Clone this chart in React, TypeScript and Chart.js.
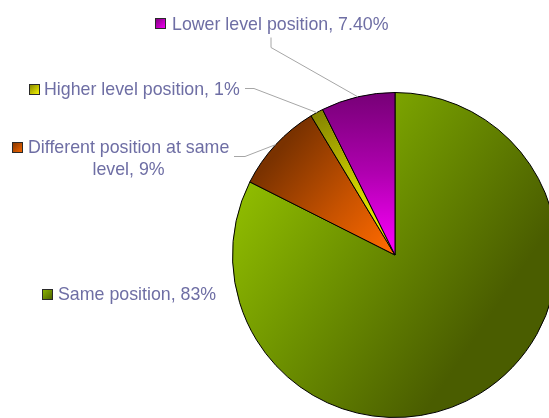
import React, { useEffect, useRef } from "react";
import { Chart, registerables } from "chart.js";

Chart.register(...registerables);

const categories = [
  "Same position",
  "Different position at same level",
  "Higher level position",
  "Lower level position",
];
const values = [83, 9, 1.3, 7.4];
const valueLabels = ["83%", "9%", "1%", "7.40%"];

// gradient stops per slice
const sliceStops: string[][] = [
  ["#8FBC00", "#6E9200", "#4A5D00"],
  ["#7A3200", "#C75200", "#FF6A00"],
  ["#7F7F00", "#C8C800", "#FFFF00"],
  ["#760076", "#B000B0", "#FF00FF"],
];

const labelLayout = [
  { sx: 42, sy: 289, tx: 58, ty: 300, lines: null as null | number[][] },
  { sx: 12, sy: 142, tx: 28, ty: 153, line2Center: 128.5, line2Y: 175, lines: [[234, 156], [245, 156]] },
  { sx: 29, sy: 84, tx: 44, ty: 95, lines: [[245, 88], [254, 88]] },
  { sx: 155, sy: 18, tx: 172, ty: 30, lines: [[271, 37], [271, 47]] },
];

const FONT = "17.8px 'Liberation Sans', Arial, sans-serif";
const TEXT_COLOR = "#6E6EA4";

function sliceGradient(ctx: CanvasRenderingContext2D, i: number, cx: number, cy: number, r: number) {
  let g: CanvasGradient;
  const s = sliceStops[i];
  if (i === 0) {
    g = ctx.createLinearGradient(cx - 0.9 * r, cy - 0.45 * r, cx + 0.5 * r, cy + 0.5 * r);
    g.addColorStop(0, s[0]);
    g.addColorStop(0.45, s[1]);
    g.addColorStop(1, s[2]);
  } else if (i === 1) {
    g = ctx.createLinearGradient(cx - 0.75 * r, cy - 0.6 * r, cx - 0.05 * r, cy);
    g.addColorStop(0, s[0]);
    g.addColorStop(0.55, s[1]);
    g.addColorStop(1, s[2]);
  } else if (i === 2) {
    g = ctx.createLinearGradient(cx - 0.5 * r, cy - 0.9 * r, cx, cy);
    g.addColorStop(0, s[0]);
    g.addColorStop(0.5, s[1]);
    g.addColorStop(1, s[2]);
  } else {
    g = ctx.createLinearGradient(cx, cy - r, cx, cy);
    g.addColorStop(0, s[0]);
    g.addColorStop(0.5, s[1]);
    g.addColorStop(1, s[2]);
  }
  return g;
}

const labelPlugin = {
  id: "sideLabels",
  afterDraw(chart: any) {
    const ctx: CanvasRenderingContext2D = chart.ctx;
    const meta = chart.getDatasetMeta(0);
    ctx.save();
    ctx.font = FONT;
    ctx.textBaseline = "alphabetic";
    meta.data.forEach((arc: any, i: number) => {
      const L: any = labelLayout[i];
      const sq = ctx.createLinearGradient(L.sx, L.sy, L.sx + 11, L.sy + 11);
      sq.addColorStop(0, sliceStops[i][0]);
      sq.addColorStop(1, sliceStops[i][2]);
      ctx.fillStyle = sq;
      ctx.fillRect(L.sx, L.sy, 11, 11);
      ctx.strokeStyle = "#2A2A2A";
      ctx.lineWidth = 1;
      ctx.strokeRect(L.sx + 0.5, L.sy + 0.5, 10, 10);
      ctx.fillStyle = TEXT_COLOR;
      if (i === 1) {
        ctx.textAlign = "left";
        ctx.fillText("Different position at same", L.tx, L.ty);
        ctx.textAlign = "center";
        ctx.fillText("level, " + valueLabels[i], L.line2Center, L.line2Y);
        ctx.textAlign = "left";
      } else {
        ctx.textAlign = "left";
        ctx.fillText(categories[i] + ", " + valueLabels[i], L.tx, L.ty);
      }
      if (L.lines) {
        const { x, y, startAngle, endAngle, outerRadius } = arc.getProps(
          ["x", "y", "startAngle", "endAngle", "outerRadius"],
          true
        );
        const mid = (startAngle + endAngle) / 2;
        const ex = x + Math.cos(mid) * outerRadius;
        const ey = y + Math.sin(mid) * outerRadius;
        ctx.strokeStyle = "#A6A6A6";
        ctx.lineWidth = 1;
        ctx.beginPath();
        ctx.moveTo(L.lines[0][0], L.lines[0][1] + 0.5);
        ctx.lineTo(L.lines[1][0], L.lines[1][1] + 0.5);
        ctx.lineTo(ex, ey);
        ctx.stroke();
      }
    });
    ctx.restore();
  },
};

export default function App() {
  const ref = useRef<HTMLCanvasElement | null>(null);
  useEffect(() => {
    if (!ref.current) return;
    const chart = new Chart(ref.current, {
      type: "pie",
      data: {
        labels: categories,
        datasets: [
          {
            data: values,
            backgroundColor: (c: any) => {
              const chart = c.chart;
              const a = chart.chartArea;
              if (!a) return sliceStops[c.dataIndex][1];
              const cx = (a.left + a.right) / 2;
              const cy = (a.top + a.bottom) / 2;
              const r = Math.min(a.right - a.left, a.bottom - a.top) / 2;
              return sliceGradient(chart.ctx, c.dataIndex, cx, cy, r);
            },
            borderColor: "#000000",
            borderWidth: 1,
          },
        ],
      },
      options: {
        responsive: false,
        animation: false,
        layout: { padding: { left: 232, top: 92, right: 42, bottom: 32 } },
        plugins: {
          legend: { display: false },
          tooltip: { enabled: false },
        },
      },
      plugins: [labelPlugin],
    });
    return () => chart.destroy();
  }, []);
  return (
    <div
      style={{
        position: "fixed",
        left: 0,
        top: 0,
        width: 549,
        height: 418,
        overflow: "hidden",
        background: "#ffffff",
      }}
    >
      <canvas ref={ref} width={600} height={450} style={{ width: 600, height: 450, display: "block" }} />
    </div>
  );
}
